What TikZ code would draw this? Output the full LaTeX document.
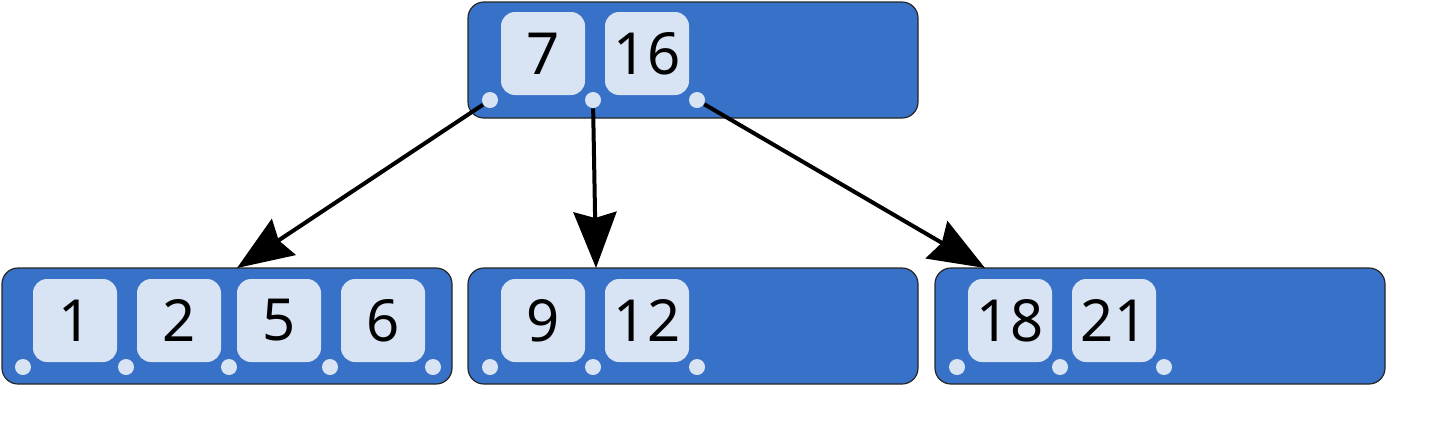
\documentclass[tikz,border=0pt]{standalone}
\usepackage{fontspec}
\setmainfont{Noto Sans}
\usetikzlibrary{arrows.meta}
\definecolor{nodeblue}{HTML}{3771C8}
\definecolor{keyfill}{HTML}{D8E3F3}
\begin{document}
\begin{tikzpicture}[x=0.5pt,y=-0.5pt,
 block/.style={draw=black!85, line width=0.6pt, fill=nodeblue, rounded corners=8pt, minimum width=225pt, minimum height=58pt, inner sep=0pt},
 key/.style={fill=keyfill, rounded corners=7pt, minimum width=42pt, minimum height=41.5pt, inner sep=0pt, font=\fontsize{29}{29}\selectfont},
 dot/.style={circle, fill=keyfill, minimum size=8pt, inner sep=0pt},
 link/.style={line width=2pt, -{Stealth[length=28pt,width=21.5pt,inset=3pt]}}]
\useasboundingbox (0,0) rectangle (1440,420);
% root
\node[block] (root) at (693,60) {};
\node[key] (k7) at (543,53.5) {7};
\node[key] (k16) at (647,53.5) {16};
\node[dot] (r0) at (490,100) {};
\node[dot] (r1) at (593,100) {};
\node[dot] (r2) at (697,100) {};
% left leaf
\node[block] (left) at (227,326) {};
\node[key] (k1) at (75,320.5) {1};
\node[key] (k2) at (179,320.5) {2};
\node[key] (k5) at (279,320.5) {5};
\node[key] (k6) at (383,320.5) {6};
\node[dot] (l0) at (23,367) {};
\node[dot] (l1) at (126,367) {};
\node[dot] (l2) at (229,367) {};
\node[dot] (l3) at (330,367) {};
\node[dot] (l4) at (433,367) {};
% middle leaf
\node[block] (mid) at (693,326) {};
\node[key] (k9) at (543,320.5) {9};
\node[key] (k12) at (647,320.5) {12};
\node[dot] (m0) at (490,367) {};
\node[dot] (m1) at (593,367) {};
\node[dot] (m2) at (697,367) {};
% right leaf
\node[block] (right) at (1160,326) {};
\node[key] (k18) at (1010,320.5) {18};
\node[key] (k21) at (1114,320.5) {21};
\node[dot] (q0) at (957,367) {};
\node[dot] (q1) at (1060,367) {};
\node[dot] (q2) at (1164,367) {};
% arrow ends
\coordinate (eL) at (237,268);
\coordinate (eM) at (596,268);
\coordinate (eR) at (985,268);
\draw[link] (r0) -- (eL);
\draw[link] (r1) -- (eM);
\draw[link] (r2) -- (eR);
\end{tikzpicture}
\end{document}
